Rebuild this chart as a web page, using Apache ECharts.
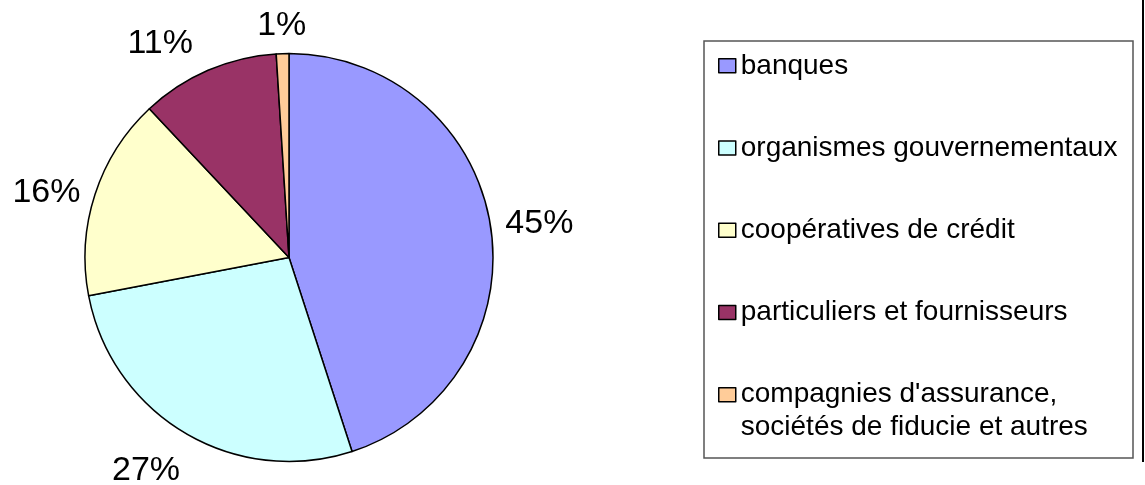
<!DOCTYPE html>
<html>
<head>
<meta charset="utf-8">
<style>
  html, body { margin: 0; padding: 0; background: #fff; }
  #chart { width: 1145px; height: 485px; }
</style>
<script src="https://cdn.jsdelivr.net/npm/echarts@6/dist/echarts.min.js"></script>
</head>
<body>
<div id="chart"></div>
<script>
// parts of the total, in percent
const categories = [
  'banques',
  'organismes gouvernementaux',
  'coopératives de crédit',
  'particuliers et fournisseurs',
  "compagnies d'assurance,\nsociétés de fiducie et autres"
];
const shares = [45, 27, 16, 11, 1];
const colors = ['#9999FF', '#CCFFFF', '#FFFFCC', '#993366', '#FFCC99'];

// small nudges so each percent label sits where the original puts it
const labelNudge = [[0, 0], [5, 29], [0, 1], [-6, -17], [29, -18]];

const FONT = "'Liberation Sans', Arial, sans-serif";

const chart = echarts.init(document.getElementById('chart'));

const legendCommon = {
  orient: 'vertical',
  left: 718,
  padding: 0,
  itemWidth: 17,
  itemHeight: 14,
  itemGap: 49.2,
  icon: 'rect',
  selectedMode: false,
  itemStyle: { borderColor: '#000', borderWidth: 1.5 },
  textStyle: { fontFamily: FONT, fontSize: 28, color: '#000', lineHeight: 33 }
};

const option = {
  animation: false,
  color: colors,
  graphic: [
    {
      type: 'rect',
      shape: { x: 704, y: 41, width: 429, height: 417 },
      style: { fill: 'none', stroke: '#555', lineWidth: 1.5 },
      z: -1
    },
    {
      type: 'line',
      shape: { x1: 1143, y1: 0, x2: 1143, y2: 462 },
      style: { stroke: '#000', lineWidth: 2 }
    }
  ],
  legend: [
    Object.assign({}, legendCommon, {
      top: 49.3,
      data: categories.slice(0, 4)
    }),
    Object.assign({}, legendCommon, {
      // a leading empty line keeps the icon level with the first text line
      top: 345.2,
      formatter: name => '\n' + name,
      data: [categories[4]]
    })
  ],
  series: [
    {
      type: 'pie',
      center: [289, 257.5],
      radius: 204,
      startAngle: 90,
      clockwise: true,
      avoidLabelOverlap: false,
      itemStyle: { borderColor: '#000', borderWidth: 1.5 },
      label: {
        show: true,
        position: 'outside',
        fontFamily: FONT,
        fontSize: 34,
        color: '#000',
        formatter: p => Math.round(p.percent) + '%'
      },
      labelLine: { show: false, length: 10, length2: 0 },
      labelLayout: p => ({ dx: labelNudge[p.dataIndex][0], dy: labelNudge[p.dataIndex][1] }),
      emphasis: { disabled: true },
      data: categories.map((name, i) => ({ name: name, value: shares[i] }))
    }
  ]
};

chart.setOption(option);
</script>
</body>
</html>
